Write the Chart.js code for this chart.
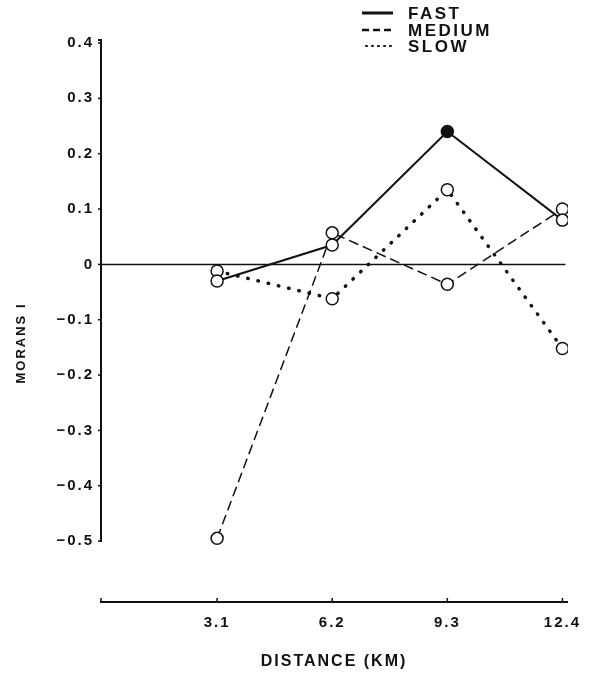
<!DOCTYPE html>
<html lang="en">
<head>
    <meta charset="UTF-8">
    <title>Morans I by distance</title>
    <script src="https://cdn.jsdelivr.net/npm/chart.js"></script>
    <style>
        body { margin: 0; background: #fff; }
        #wrap { width: 592px; height: 676px; }
    </style>
</head>
<body>
    <div id="wrap"><canvas id="chart" width="592" height="676"></canvas></div>
    <script>
        // data
        const distances = [3.1, 6.2, 9.3, 12.4];
        const fast = [-0.03, 0.035, 0.24, 0.08];
        const medium = [-0.495, 0.057, -0.036, 0.1];
        const slow = [-0.012, -0.062, 0.135, -0.152];
        const yTicks = [0.4, 0.3, 0.2, 0.1, 0, -0.1, -0.2, -0.3, -0.4, -0.5];
        const xTicks = [3.1, 6.2, 9.3, 12.4];

        const ink = '#111';
        const font = '"Liberation Sans", Arial, sans-serif';

        function pts(vals) {
            return distances.map((d, i) => ({ x: d, y: vals[i] }));
        }

        // axes, zero line, titles and legend drawn by hand
        const extras = {
            id: 'extras',
            beforeDraw(chart) {
                chart.ctx.letterSpacing = '2px';
            },
            beforeDatasetsDraw(chart) {
                const ctx = chart.ctx;
                const xs = chart.scales.x, ys = chart.scales.y;
                const ax = xs.left - 1;
                const yTop = ys.getPixelForValue(0.4), yBot = ys.getPixelForValue(-0.5);
                ctx.save();
                ctx.letterSpacing = '0px';
                ctx.strokeStyle = ink;
                ctx.lineWidth = 2;
                // y axis
                ctx.beginPath();
                ctx.moveTo(ax - 3, yTop - 3);
                ctx.lineTo(ax, yTop - 3);
                ctx.lineTo(ax, yBot + 1);
                ctx.stroke();
                ctx.lineWidth = 1.5;
                yTicks.forEach(v => {
                    const y = ys.getPixelForValue(v);
                    ctx.beginPath();
                    ctx.moveTo(ax - 3, y);
                    ctx.lineTo(ax, y);
                    ctx.stroke();
                });
                // zero line
                const y0 = ys.getPixelForValue(0);
                ctx.beginPath();
                ctx.moveTo(ax, y0);
                ctx.lineTo(xs.getPixelForValue(12.4) + 3, y0);
                ctx.stroke();
                // x axis
                const yb = chart.chartArea.bottom;
                ctx.lineWidth = 2;
                ctx.beginPath();
                ctx.moveTo(ax - 1, yb);
                ctx.lineTo(xs.right, yb);
                ctx.stroke();
                ctx.lineWidth = 1.5;
                [0].concat(xTicks).forEach(v => {
                    const x = v === 0 ? ax : xs.getPixelForValue(v);
                    ctx.beginPath();
                    ctx.moveTo(x, yb);
                    ctx.lineTo(x, yb - 4);
                    ctx.stroke();
                });
                ctx.restore();
            },
            afterDraw(chart) {
                const ctx = chart.ctx;
                ctx.save();
                ctx.fillStyle = ink;
                ctx.strokeStyle = ink;
                // axis titles
                ctx.letterSpacing = '2px';
                ctx.font = 'bold 16px ' + font;
                ctx.textAlign = 'center';
                ctx.textBaseline = 'middle';
                ctx.fillText('DISTANCE (KM)', 334, 662);
                ctx.save();
                ctx.translate(21, 343);
                ctx.rotate(-Math.PI / 2);
                ctx.font = 'bold 13px ' + font;
                ctx.fillText('MORANS I', 0, 0);
                ctx.restore();
                // legend
                ctx.textAlign = 'left';
                ctx.letterSpacing = '2.5px';
                ctx.font = 'bold 17px ' + font;
                const rows = [
                    { label: 'FAST', y: 13, dash: [], w: 3 },
                    { label: 'MEDIUM', y: 30, dash: [7, 4], w: 2.5 },
                    { label: 'SLOW', y: 46, dash: [1, 5], w: 2 }
                ];
                rows.forEach(r => {
                    ctx.setLineDash(r.dash);
                    ctx.lineWidth = r.w;
                    ctx.lineCap = r.label === 'SLOW' ? 'round' : 'butt';
                    ctx.beginPath();
                    ctx.moveTo(r.label === 'SLOW' ? 366 : 362, r.y);
                    ctx.lineTo(393, r.y);
                    ctx.stroke();
                    ctx.fillText(r.label, 408, r.y + 1);
                });
                ctx.restore();
            }
        };

        new Chart(document.getElementById('chart'), {
            type: 'line',
            data: {
                datasets: [
                    {
                        label: 'FAST',
                        data: pts(fast),
                        borderColor: ink,
                        borderWidth: 2,
                        pointRadius: 6,
                        pointBorderWidth: 1.5,
                        pointBorderColor: ink,
                        pointBackgroundColor: ['#fff', '#fff', ink, '#fff']
                    },
                    {
                        label: 'MEDIUM',
                        data: pts(medium),
                        borderColor: ink,
                        borderWidth: 1.5,
                        borderDash: [10, 5],
                        pointRadius: 6,
                        pointBorderWidth: 1.5,
                        pointBorderColor: ink,
                        pointBackgroundColor: '#fff'
                    },
                    {
                        label: 'SLOW',
                        data: pts(slow),
                        borderColor: ink,
                        borderWidth: 3.5,
                        borderDash: [0.5, 10],
                        borderCapStyle: 'round',
                        pointRadius: 6,
                        pointBorderWidth: 1.5,
                        pointBorderColor: ink,
                        pointBackgroundColor: '#fff'
                    }
                ]
            },
            options: {
                responsive: false,
                animation: false,
                layout: { padding: { top: 43, right: 24, left: 0, bottom: 0 } },
                plugins: { legend: { display: false }, tooltip: { enabled: false } },
                scales: {
                    x: {
                        type: 'linear',
                        min: 0,
                        max: 12.55,
                        grid: { display: false, drawTicks: false },
                        border: { display: false },
                        afterBuildTicks: s => { s.ticks = xTicks.map(v => ({ value: v })); },
                        afterFit: s => { s.height = 74; },
                        ticks: {
                            color: ink,
                            padding: 12,
                            maxRotation: 0,
                            font: { family: font, size: 15, weight: 'bold' },
                            callback: v => v.toFixed(1)
                        }
                    },
                    y: {
                        min: -0.61,
                        max: 0.4,
                        grid: { display: false, drawTicks: false },
                        border: { display: false },
                        afterBuildTicks: s => { s.ticks = yTicks.map(v => ({ value: v })); },
                        afterFit: s => { s.width = 102; },
                        ticks: {
                            color: ink,
                            padding: 8,
                            font: { family: font, size: 15, weight: 'bold' },
                            callback: v => v === 0 ? '0' : (v < 0 ? '\u2212' : '') + Math.abs(v).toFixed(1)
                        }
                    }
                }
            },
            plugins: [extras]
        });
    </script>
</body>
</html>
